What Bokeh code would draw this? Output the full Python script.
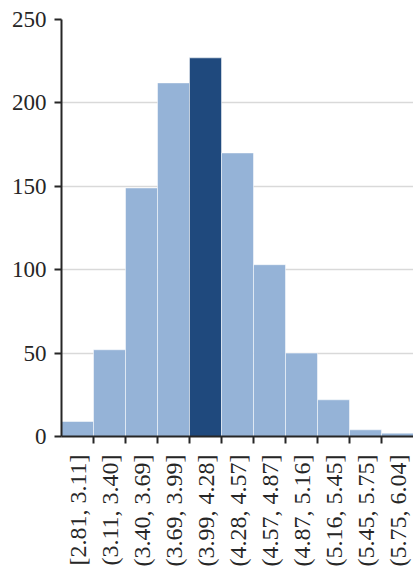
from bokeh.plotting import figure
from bokeh.models import FixedTicker, ColumnDataSource
from bokeh.embed import file_html
from bokeh.resources import INLINE
import math

bins = ["[2.81, 3.11]", "(3.11, 3.40]", "(3.40, 3.69]", "(3.69, 3.99]", "(3.99, 4.28]",
        "(4.28, 4.57]", "(4.57, 4.87]", "(4.87, 5.16]", "(5.16, 5.45]", "(5.45, 5.75]", "(5.75, 6.04]"]
counts = [9, 52, 149, 212, 227, 170, 103, 50, 22, 4, 2]
highlight = "(3.99, 4.28]"
y_ticks = [0, 50, 100, 150, 200, 250]

LIGHT = "#95b3d7"
DARK = "#1f497d"

n = len(bins)
src = ColumnDataSource(dict(
    left=list(range(n)),
    right=[i + 1 for i in range(n)],
    top=counts,
    bottom=[0] * n,
    color=[DARK if b == highlight else LIGHT for b in bins],
))

p = figure(frame_width=352, frame_height=417, output_backend="svg", toolbar_location=None,
           x_range=(0, n), y_range=(0, 250),
           min_border_left=61, min_border_top=19, min_border_right=0, min_border_bottom=0)
p.outline_line_color = None
p.background_fill_color = "white"
p.border_fill_color = "white"

p.quad(left="left", right="right", top="top", bottom="bottom", fill_color="color",
       line_color="white", line_width=1, line_alpha=0.5, source=src)

font = "Liberation Serif"
# y axis
p.yaxis.ticker = FixedTicker(ticks=y_ticks)
p.yaxis.axis_line_color = "#262626"
p.yaxis.axis_line_width = 2
p.yaxis.major_tick_line_color = "#262626"
p.yaxis.major_tick_line_width = 2
p.yaxis.major_tick_out = 7
p.yaxis.major_tick_in = 0
p.yaxis.minor_tick_line_color = None
p.yaxis.major_label_text_font = font
p.yaxis.major_label_text_font_size = "23px"
p.yaxis.major_label_text_color = "#262626"
p.yaxis.major_label_standoff = 8

# x axis: labels at bar centres, ticks at bar boundaries (minor ticks)
centers = [i + 0.5 for i in range(n)]
p.xaxis.ticker = FixedTicker(ticks=centers, minor_ticks=list(range(1, n)))
p.xaxis.major_label_overrides = {c: b for c, b in zip(centers, bins)}
p.xaxis.major_tick_line_color = None
p.xaxis.minor_tick_line_color = "#262626"
p.xaxis.minor_tick_line_width = 2
p.xaxis.minor_tick_out = 7
p.xaxis.minor_tick_in = 0
p.xaxis.axis_line_color = "#262626"
p.xaxis.axis_line_width = 2
p.xaxis.major_label_orientation = math.pi / 2
p.xaxis.major_label_text_font = font
p.xaxis.major_label_text_font_size = "24px"
p.xaxis.major_label_text_color = "#262626"
p.xaxis.major_label_standoff = 11

p.xgrid.grid_line_color = None
p.ygrid.ticker = FixedTicker(ticks=y_ticks)
p.ygrid.grid_line_color = "#d9d9d9"
p.ygrid.grid_line_width = 1.5

open("out.html", "w").write(file_html(p, INLINE))
